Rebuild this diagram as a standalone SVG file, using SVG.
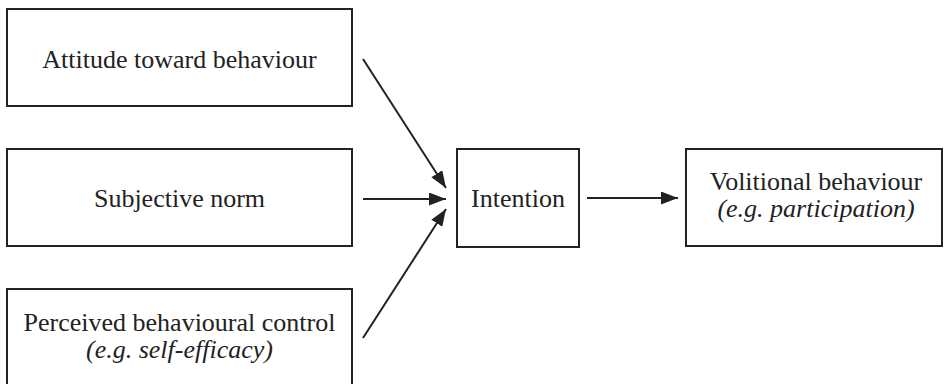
<svg xmlns="http://www.w3.org/2000/svg" width="947" height="384" viewBox="0 0 947 384">
  <style>
    .box { fill: #ffffff; stroke: #222222; stroke-width: 2; }
    .lbl { font-size: 26px; fill: #222222; text-anchor: middle; }
    .it { font-style: italic; }
    .conn { stroke: #222222; stroke-width: 2; fill: none; marker-end: url(#arrow); }
  </style>
  <defs>
    <marker id="arrow" markerUnits="userSpaceOnUse" markerWidth="18" markerHeight="14" refX="17" refY="6.5" orient="auto">
      <path d="M0,0 L17,6.5 L0,13 z" fill="#222222"/>
    </marker>
  </defs>
  <rect width="947" height="384" fill="#ffffff"/>
  <g font-family="Liberation Serif, Times New Roman, Times, Tinos, Noto Serif, DejaVu Serif, FreeSerif, serif">
  <g id="attitude">
    <rect class="box" x="7" y="9" width="345" height="97"/>
    <text class="lbl" x="179.5" y="68">Attitude toward behaviour</text>
  </g>
  <g id="subjective-norm">
    <rect class="box" x="7" y="149" width="345" height="97"/>
    <text class="lbl" x="179.5" y="207">Subjective norm</text>
  </g>
  <g id="perceived-control">
    <rect class="box" x="7" y="289" width="345" height="110"/>
    <text class="lbl" x="179.5" y="331">Perceived behavioural control</text>
    <text class="lbl it" x="179.5" y="358">(e.g. self-efficacy)</text>
  </g>
  <g id="intention">
    <rect class="box" x="457" y="149" width="122" height="98"/>
    <text class="lbl" x="518" y="207">Intention</text>
  </g>
  <g id="volitional-behaviour">
    <rect class="box" x="686" y="149" width="256" height="97"/>
    <text class="lbl" x="816" y="190">Volitional behaviour</text>
    <text class="lbl it" x="816" y="217">(e.g. participation)</text>
  </g>
  </g>
  <g id="connectors">
    <line class="conn" x1="363" y1="59" x2="446" y2="188"/>
    <line class="conn" x1="363" y1="199" x2="446" y2="199"/>
    <line class="conn" x1="363" y1="338" x2="446" y2="209"/>
    <line class="conn" x1="587" y1="198" x2="678" y2="198"/>
  </g>
</svg>
